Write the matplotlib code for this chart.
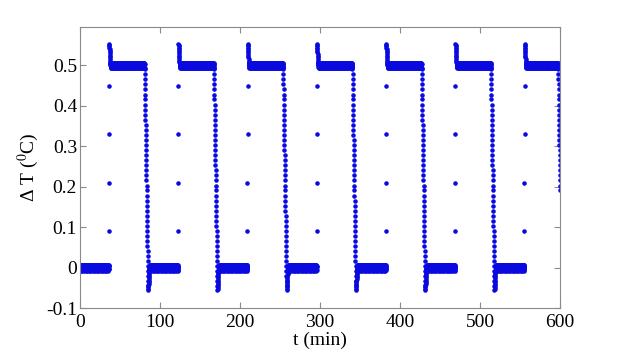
import numpy as np
import matplotlib
matplotlib.use('Agg')
import matplotlib.pyplot as plt

# event times (min)
rise_times = [36.3, 122.8, 209.3, 295.8, 382.3, 468.8, 555.3]
fall_times = [81.0, 167.5, 254.0, 340.5, 427.0, 513.5, 597.6]
t_end = 600.0
dt = 0.1

# levels
low_level = 0.0
high_level = 0.5

# samples during a rise (fast jump, overshoot, settle)
rise_values = [0.09, 0.21, 0.33, 0.45, 0.553, 0.551, 0.548, 0.544, 0.54, 0.536,
               0.532, 0.528, 0.524, 0.52, 0.516, 0.512, 0.509, 0.506, 0.503, 0.501]

# samples during a fall (slow ramp, undershoot, recovery)
fall_values = [0.49, 0.478, 0.466, 0.453, 0.441, 0.428, 0.416, 0.403, 0.391, 0.378,
               0.366, 0.353, 0.341, 0.328, 0.316, 0.303, 0.291, 0.278, 0.266, 0.253,
               0.241, 0.228, 0.216, 0.203, 0.191, 0.178, 0.166, 0.153, 0.141, 0.128,
               0.116, 0.103, 0.091, 0.078, 0.066, 0.053, 0.041, 0.028, 0.016, 0.003,
               -0.009, -0.021, -0.033, -0.045, -0.055, -0.052, -0.048, -0.044, -0.04,
               -0.036, -0.032, -0.028, -0.024, -0.02, -0.016, -0.012, -0.009, -0.006,
               -0.004, -0.002]

# small ripple seen on the flat parts
ripple = [0.004, -0.003, 0.006, -0.005, 0.001, -0.006, 0.003, 0.007, -0.002, -0.004,
          0.002, -0.007, 0.005, 0.0, -0.003, 0.006, -0.005, 0.001, 0.004, -0.003]

xticks = [0, 100, 200, 300, 400, 500, 600]
yticks = [-0.1, 0, 0.1, 0.2, 0.3, 0.4, 0.5]
yticklabels = ['-0.1', '0', '0.1', '0.2', '0.3', '0.4', '0.5']


def flat(t0, t1, level):
    tt = np.arange(t0, t1, dt)
    vv = level + np.resize(np.array(ripple), len(tt))
    return tt, vv


def transient(t0, values):
    tt = t0 + dt * np.arange(len(values))
    return tt, np.array(values)


t_parts = []
y_parts = []
t_now = 0.0
for rt, ft in zip(rise_times, fall_times):
    # low part
    tt, vv = flat(t_now, rt, low_level)
    t_parts.append(tt); y_parts.append(vv)
    # rise
    tt, vv = transient(rt, rise_values)
    t_parts.append(tt); y_parts.append(vv)
    # high part
    tt, vv = flat(tt[-1] + dt, ft, high_level)
    t_parts.append(tt); y_parts.append(vv)
    # fall
    tt, vv = transient(ft, fall_values)
    t_parts.append(tt); y_parts.append(vv)
    t_now = tt[-1] + dt

t = np.concatenate(t_parts)
y = np.concatenate(y_parts)
keep = t <= t_end
t = t[keep]
y = y[keep]

plt.rcParams['font.family'] = 'Liberation Serif'
plt.rcParams['mathtext.fontset'] = 'stix'

fig = plt.figure(figsize=(6.19, 3.55), dpi=100)
ax = fig.add_axes([0.129, 0.132, 0.776, 0.792])

ax.plot(t, y, '.', color='#0a0ae0', markersize=4.5)

ax.set_xlim(0, 600)
ax.set_ylim(-0.1, 0.595)
ax.set_xticks(xticks)
ax.set_yticks(yticks)
ax.set_yticklabels(yticklabels)

for s in ax.spines.values():
    s.set_color('#8a8a8a')
    s.set_linewidth(0.8)
ax.tick_params(direction='in', length=4, color='#8a8a8a', labelsize=14,
               top=True, right=True, labelcolor='black')
ax.tick_params(axis='y', pad=2)
ax.tick_params(axis='x', pad=4)

ax.set_xlabel('t (min)', fontsize=14, labelpad=1)
ax.set_ylabel('Δ T ($^{0}$C)', fontsize=14, labelpad=4)

fig.savefig('out.png', dpi=100)
